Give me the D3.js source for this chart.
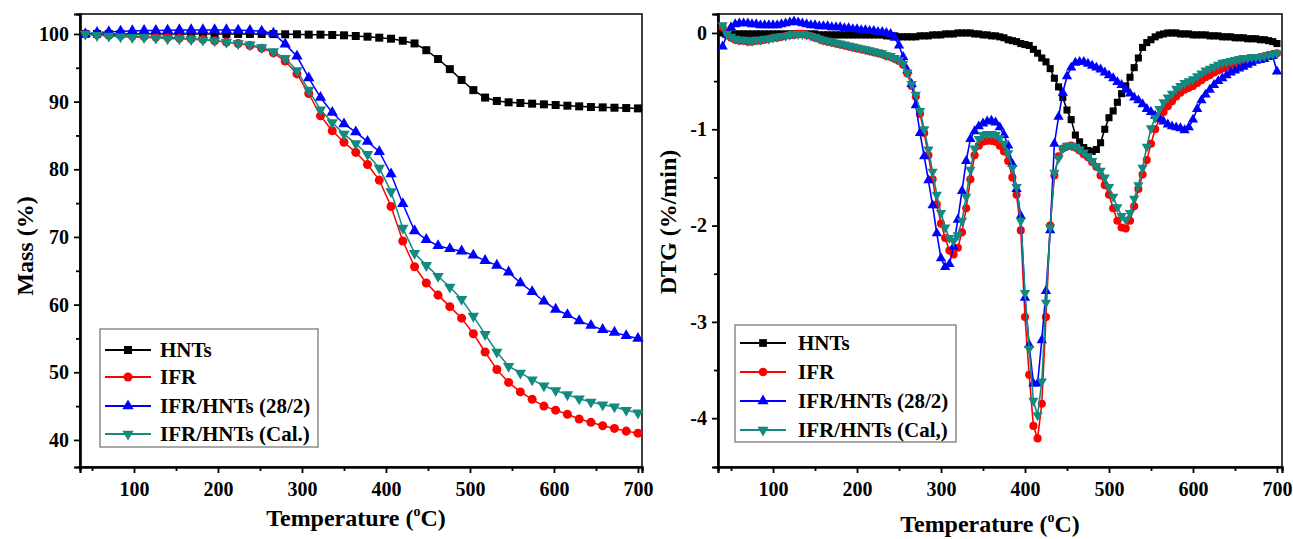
<!DOCTYPE html>
<html>
<head>
<meta charset="utf-8">
<script src="https://cdn.jsdelivr.net/npm/d3@7"></script>
<style>
  body { margin: 0; background: #fff; }
  svg text { font-family: "Liberation Serif", "Times New Roman", serif; font-weight: bold; fill: #000; }
</style>
</head>
<body>
<div id="chart"></div>
<script>
// ---------------- data ----------------

var seriesNames = ['HNTs', 'IFR', 'IFR/HNTs (28/2)', 'IFR/HNTs (Cal.)'];
var seriesNamesDTG = ['HNTs', 'IFR', 'IFR/HNTs (28/2)', 'IFR/HNTs (Cal,)'];
var seriesColors = ['#000000', '#ff0000', '#0000ff', '#138a80'];
var seriesSymbols = ['square', 'circle', 'triangleUp', 'triangleDown'];

// TG panel (left)
var tempTG = [42, 56, 70, 84, 98, 112, 126, 140, 154, 168, 182, 196, 210, 224, 238, 252,
    266, 280, 294, 308, 322, 336, 350, 364, 378, 392, 406, 420, 434, 448, 462, 476,
    490, 504, 518, 532, 546, 560, 574, 588, 602, 616, 630, 644, 658, 672, 686, 700];

var massHNTs = [100, 100, 100, 100, 100, 100, 100, 100, 100, 100, 100, 100, 100, 100, 100, 100,
    99.98, 99.95, 99.95, 99.9, 99.9, 99.85, 99.8, 99.7, 99.6, 99.45, 99.3, 99.0, 98.6, 97.6, 96.3, 94.8,
    93.2, 91.7, 90.6, 90.1, 89.9, 89.8, 89.7, 89.6, 89.5, 89.4, 89.3, 89.2, 89.15, 89.1, 89.05, 89.0];

var massIFR = [100, 99.9, 99.8, 99.75, 99.7, 99.6, 99.55, 99.5, 99.4, 99.3, 99.2, 99.0, 98.8, 98.6, 98.3, 97.9,
    97.2, 96.0, 94.1, 91.2, 87.9, 85.7, 84.0, 82.5, 80.7, 78.4, 74.5, 69.4, 65.6, 63.2, 61.4, 59.7,
    58.0, 55.7, 53.0, 50.4, 48.5, 47.1, 46.0, 45.0, 44.4, 43.8, 43.1, 42.6, 42.1, 41.7, 41.3, 41.0];

var massMix = [100, 100.2, 100.3, 100.4, 100.45, 100.5, 100.5, 100.55, 100.6, 100.6, 100.6, 100.6, 100.6, 100.55, 100.5, 100.4,
    100.1, 98.5, 96.7, 93.5, 90.6, 88.4, 86.7, 85.5, 84.1, 82.6, 79.3, 74.9, 70.9, 69.6, 68.7, 68.25,
    67.9, 67.3, 66.5, 65.8, 64.8, 63.2, 61.9, 60.5, 59.3, 58.5, 57.6, 56.9, 56.3, 55.9, 55.4, 55.0];

var massCal = [100, 99.8, 99.7, 99.6, 99.5, 99.5, 99.4, 99.3, 99.3, 99.2, 99.1, 99.0, 98.8, 98.6, 98.4, 98.0,
    97.4, 96.4, 94.6, 91.7, 88.8, 86.9, 85.2, 83.8, 82.2, 80.2, 76.7, 71.3, 67.6, 65.8, 64.2, 62.6,
    60.8, 58.3, 55.6, 53.0, 50.9, 49.9, 48.9, 48.0, 47.3, 46.7, 46.1, 45.6, 45.2, 44.9, 44.4, 44.0];

// DTG panel (right)
var tempDTG = [40, 45, 50, 55, 60, 65, 70, 75, 80, 85,
    90, 95, 100, 105, 110, 115, 120, 125, 130, 135,
    140, 145, 150, 155, 160, 165, 170, 175, 180, 185,
    190, 195, 200, 205, 210, 215, 220, 225, 230, 235,
    240, 245, 250, 255, 260, 265, 270, 275, 280, 285,
    290, 295, 300, 305, 310, 315, 320, 325, 330, 335,
    340, 345, 350, 355, 360, 365, 370, 375, 380, 385,
    390, 395, 400, 405, 410, 415, 420, 425, 430, 435,
    440, 445, 450, 455, 460, 465, 470, 475, 480, 485,
    490, 495, 500, 505, 510, 515, 520, 525, 530, 535,
    540, 545, 550, 555, 560, 565, 570, 575, 580, 585,
    590, 595, 600, 605, 610, 615, 620, 625, 630, 635,
    640, 645, 650, 655, 660, 665, 670, 675, 680, 685,
    690, 695, 700];

var dtgHNTs = [0, -0.01, -0.01, -0.01, -0.01, -0.01, -0.01, -0.01, -0.01, -0.01,
    -0.01, -0.01, -0.01, -0.01, -0.01, -0.01, -0.01, -0.01, -0.01, -0.01,
    -0.01, -0.01, -0.01, -0.02, -0.02, -0.02, -0.02, -0.02, -0.02, -0.02,
    -0.02, -0.02, -0.02, -0.02, -0.02, -0.02, -0.02, -0.02, -0.02, -0.03,
    -0.03, -0.03, -0.04, -0.04, -0.04, -0.04, -0.04, -0.03, -0.03, -0.03,
    -0.02, -0.02, -0.02, -0.01, -0.01, -0.01, 0, 0, 0, 0,
    -0.01, -0.01, -0.02, -0.02, -0.03, -0.03, -0.04, -0.05, -0.07, -0.08,
    -0.09, -0.11, -0.12, -0.13, -0.17, -0.21, -0.26, -0.30, -0.37, -0.47,
    -0.56, -0.67, -0.80, -0.90, -1.06, -1.13, -1.19, -1.22, -1.23, -1.21,
    -1.14, -1.00, -0.88, -0.81, -0.72, -0.63, -0.55, -0.46, -0.36, -0.26,
    -0.15, -0.10, -0.07, -0.04, -0.02, -0.01, 0, 0, 0, -0.01,
    -0.01, -0.01, -0.02, -0.02, -0.02, -0.02, -0.03, -0.03, -0.03, -0.04,
    -0.04, -0.04, -0.05, -0.05, -0.05, -0.06, -0.06, -0.06, -0.07, -0.07,
    -0.08, -0.09, -0.11];

var dtgIFR = [0.06, -0.02, -0.05, -0.07, -0.08, -0.08, -0.09, -0.09, -0.08, -0.08,
    -0.07, -0.06, -0.05, -0.05, -0.04, -0.03, -0.02, -0.02, -0.01, -0.01,
    -0.02, -0.03, -0.05, -0.06, -0.08, -0.09, -0.10, -0.11, -0.12, -0.13,
    -0.14, -0.15, -0.16, -0.17, -0.18, -0.19, -0.20, -0.21, -0.22, -0.24,
    -0.25, -0.27, -0.29, -0.33, -0.42, -0.55, -0.66, -0.84, -1.04, -1.27,
    -1.52, -1.78, -1.98, -2.13, -2.26, -2.30, -2.23, -2.07, -1.82, -1.52,
    -1.27, -1.17, -1.13, -1.12, -1.12, -1.13, -1.17, -1.23, -1.33, -1.50,
    -1.68, -2.05, -2.95, -3.55, -4.08, -4.21, -3.85, -2.95, -2.00, -1.48,
    -1.28, -1.20, -1.18, -1.17, -1.19, -1.22, -1.26, -1.29, -1.34, -1.39,
    -1.48, -1.58, -1.68, -1.82, -1.95, -2.02, -2.03, -1.95, -1.80, -1.62,
    -1.47, -1.32, -1.15, -1.00, -0.89, -0.82, -0.76, -0.71, -0.66, -0.62,
    -0.59, -0.57, -0.55, -0.52, -0.49, -0.46, -0.44, -0.41, -0.39, -0.37,
    -0.35, -0.33, -0.31, -0.30, -0.28, -0.27, -0.26, -0.26, -0.25, -0.24,
    -0.23, -0.22, -0.21];

var dtgMix = [-0.14, -0.02, 0.06, 0.09, 0.10, 0.10, 0.10, 0.09, 0.09, 0.08,
    0.08, 0.08, 0.08, 0.08, 0.09, 0.10, 0.11, 0.12, 0.11, 0.10,
    0.09, 0.08, 0.08, 0.07, 0.07, 0.07, 0.06, 0.06, 0.06, 0.05,
    0.05, 0.04, 0.04, 0.03, 0.03, 0.02, 0.02, 0.01, 0.01, 0.00,
    -0.01, -0.05, -0.13, -0.25, -0.39, -0.53, -0.75, -1.04, -1.28, -1.53,
    -1.79, -2.08, -2.34, -2.43, -2.40, -2.22, -1.94, -1.64, -1.33, -1.10,
    -1.02, -0.97, -0.94, -0.92, -0.91, -0.93, -0.98, -1.06, -1.17, -1.36,
    -1.62, -1.90, -2.75, -3.24, -3.64, -3.64, -3.19, -2.68, -2.05, -1.15,
    -0.87, -0.62, -0.45, -0.36, -0.31, -0.30, -0.30, -0.32, -0.34, -0.36,
    -0.38, -0.41, -0.44, -0.47, -0.51, -0.54, -0.59, -0.63, -0.67, -0.70,
    -0.74, -0.79, -0.82, -0.86, -0.89, -0.92, -0.95, -0.97, -0.98, -0.99,
    -1.01, -0.98, -0.90, -0.79, -0.70, -0.64, -0.59, -0.54, -0.50, -0.47,
    -0.44, -0.41, -0.39, -0.37, -0.35, -0.33, -0.31, -0.29, -0.28, -0.27,
    -0.25, -0.24, -0.40];

var dtgCal = [0.08, -0.01, -0.04, -0.06, -0.07, -0.07, -0.08, -0.08, -0.07, -0.07,
    -0.06, -0.06, -0.05, -0.04, -0.03, -0.03, -0.02, -0.01, -0.01, -0.01,
    -0.02, -0.03, -0.04, -0.06, -0.07, -0.08, -0.09, -0.10, -0.11, -0.12,
    -0.13, -0.14, -0.15, -0.16, -0.17, -0.18, -0.19, -0.20, -0.21, -0.23,
    -0.24, -0.26, -0.28, -0.32, -0.41, -0.53, -0.64, -0.81, -1.00, -1.21,
    -1.44, -1.68, -1.87, -2.02, -2.13, -2.16, -2.10, -1.95, -1.70, -1.42,
    -1.20, -1.10, -1.06, -1.05, -1.05, -1.06, -1.09, -1.15, -1.25, -1.40,
    -1.60, -1.95, -2.70, -3.28, -3.82, -3.97, -3.62, -2.80, -2.02, -1.45,
    -1.30, -1.20, -1.17, -1.17, -1.18, -1.21, -1.24, -1.28, -1.33, -1.38,
    -1.43, -1.50, -1.60, -1.70, -1.81, -1.90, -1.94, -1.87, -1.72, -1.58,
    -1.40, -1.18, -0.99, -0.88, -0.79, -0.72, -0.67, -0.63, -0.58, -0.55,
    -0.52, -0.50, -0.48, -0.45, -0.42, -0.39, -0.37, -0.35, -0.33, -0.31,
    -0.30, -0.29, -0.28, -0.27, -0.26, -0.26, -0.25, -0.25, -0.25, -0.24,
    -0.23, -0.22, -0.21];

// tick values
var tempTicks = [100, 200, 300, 400, 500, 600, 700];
var tempMinor = [50, 150, 250, 350, 450, 550, 650];
var massTicks = [40, 50, 60, 70, 80, 90, 100];
var massMinor = [45, 55, 65, 75, 85, 95];
var dtgTicks = [0, -1, -2, -3, -4];
var dtgMinor = [-0.5, -1.5, -2.5, -3.5];

// ---------------- drawing ----------------

var svgWidth = 1293;
var svgHeight = 539;

var svg = d3.select('#chart')
    .append('svg')
    .attr('width', svgWidth)
    .attr('height', svgHeight);

var symbolTypes = {
    square: d3.symbolSquare,
    circle: d3.symbolCircle,
    triangleUp: d3.symbolTriangle,
    triangleDown: d3.symbolTriangle
};

function markerPath(name, size) {
    return d3.symbol().type(symbolTypes[name]).size(size)();
}

function markerTransform(name, px, py) {
    if (name === 'triangleDown') return `translate(${px},${py}) rotate(180)`;
    return `translate(${px},${py})`;
}

// plain hyphen for negatives, as in the original figure
var plainFormat = d => String(d);

function drawPanel(p) {
    var x = d3.scaleLinear().domain(p.xDomain).range([p.left, p.right]);
    var y = d3.scaleLinear().domain(p.yDomain).range([p.bottom, p.top]);
    var g = svg.append('g');

    // frame
    g.append('rect')
        .attr('x', p.left).attr('y', p.top)
        .attr('width', p.right - p.left).attr('height', p.bottom - p.top)
        .attr('fill', 'none').attr('stroke', '#000').attr('stroke-width', 1.5);

    // bottom axis: major + minor
    g.append('g')
        .attr('transform', `translate(0,${p.bottom})`)
        .call(d3.axisBottom(x).tickValues(tempTicks).tickSize(6).tickPadding(9).tickFormat(plainFormat));
    g.append('g')
        .attr('transform', `translate(0,${p.bottom})`)
        .call(d3.axisBottom(x).tickValues(tempMinor).tickSize(4).tickFormat(''));

    // left axis: major + minor
    g.append('g')
        .attr('transform', `translate(${p.left},0)`)
        .call(d3.axisLeft(y).tickValues(p.yTicks).tickSize(6).tickPadding(5).tickFormat(plainFormat));
    g.append('g')
        .attr('transform', `translate(${p.left},0)`)
        .call(d3.axisLeft(y).tickValues(p.yMinor).tickSize(4).tickFormat(''));

    g.selectAll('.domain').attr('stroke', '#000').attr('stroke-width', 2.2);
    g.selectAll('.tick line').attr('stroke', '#000').attr('stroke-width', 1.8);
    g.selectAll('.tick text').attr('font-size', 20).attr('fill', '#000');

    // series
    var line = d3.line()
        .x(d => x(d[0]))
        .y(d => y(d[1]));

    p.series.forEach((vals, i) => {
        var pts = p.temps.map((t, k) => [t, vals[k]]);
        g.append('path')
            .datum(pts)
            .attr('d', line)
            .attr('fill', 'none')
            .attr('stroke', seriesColors[i])
            .attr('stroke-width', p.lineWidth);
        g.append('g').selectAll('path')
            .data(pts)
            .enter()
            .append('path')
            .attr('d', markerPath(seriesSymbols[i], p.markerSizes[i]))
            .attr('transform', d => markerTransform(seriesSymbols[i], x(d[0]), y(d[1])))
            .attr('fill', seriesColors[i]);
    });

    // legend
    var lg = g.append('g');
    lg.append('rect')
        .attr('x', p.legend.x).attr('y', p.legend.y)
        .attr('width', p.legend.w).attr('height', p.legend.h)
        .attr('fill', '#fff').attr('stroke', '#8a8a8a').attr('stroke-width', 1.5);
    p.names.forEach((name, i) => {
        var cy = p.legend.rows[i];
        var x0 = p.legend.x + 5;
        var x1 = x0 + 46;
        lg.append('line')
            .attr('x1', x0).attr('x2', x1).attr('y1', cy).attr('y2', cy)
            .attr('stroke', seriesColors[i]).attr('stroke-width', 2);
        lg.append('path')
            .attr('d', markerPath(seriesSymbols[i], p.legendMarker[i]))
            .attr('transform', markerTransform(seriesSymbols[i], (x0 + x1) / 2, cy))
            .attr('fill', seriesColors[i]);
        lg.append('text')
            .attr('x', p.legend.textX)
            .attr('y', cy)
            .attr('dominant-baseline', 'central')
            .attr('font-size', 21)
            .text(name);
    });

    // x title with superscript o
    var xt = g.append('text')
        .attr('x', (p.left + p.right) / 2 + p.xTitleShift)
        .attr('y', p.xTitleY)
        .attr('text-anchor', 'middle')
        .attr('font-size', 24);
    xt.append('tspan').text('Temperature (');
    xt.append('tspan').attr('font-size', 14).attr('dy', -10).text('o');
    xt.append('tspan').attr('dy', 10).text('C)');

    // y title
    g.append('text')
        .attr('transform', `translate(${p.yTitleX},${p.yTitleY}) rotate(-90)`)
        .attr('text-anchor', 'middle')
        .attr('font-size', 24)
        .text(p.yTitle);
}

drawPanel({
    left: 80, right: 642, top: 14, bottom: 467,
    xDomain: [35.7, 704.8],
    yDomain: [36.0, 102.95],
    yTicks: massTicks,
    yMinor: massMinor,
    temps: tempTG,
    series: [massHNTs, massIFR, massMix, massCal],
    names: seriesNames,
    lineWidth: 1.5,
    markerSizes: [64, 64, 56, 56],
    legendMarker: [64, 64, 56, 56],
    legend: { x: 100, y: 329, w: 218, h: 118, textX: 160, rows: [350, 377, 406, 434] },
    xTitleY: 526, xTitleShift: -5,
    yTitleX: 33, yTitleY: 246,
    yTitle: 'Mass (%)'
});

drawPanel({
    left: 718, right: 1282, top: 14, bottom: 467,
    xDomain: [34.5, 706],
    yDomain: [-4.507, 0.197],
    yTicks: dtgTicks,
    yMinor: dtgMinor,
    temps: tempDTG,
    series: [dtgHNTs, dtgIFR, dtgMix, dtgCal],
    names: seriesNamesDTG,
    lineWidth: 1.6,
    markerSizes: [50, 52, 46, 46],
    legendMarker: [60, 60, 54, 54],
    legend: { x: 735, y: 325, w: 221, h: 117, textX: 798, rows: [343, 372, 401, 430] },
    xTitleY: 532, xTitleShift: -10,
    yTitleX: 676, yTitleY: 222,
    yTitle: 'DTG (%/min)'
});
</script>
</body>
</html>
